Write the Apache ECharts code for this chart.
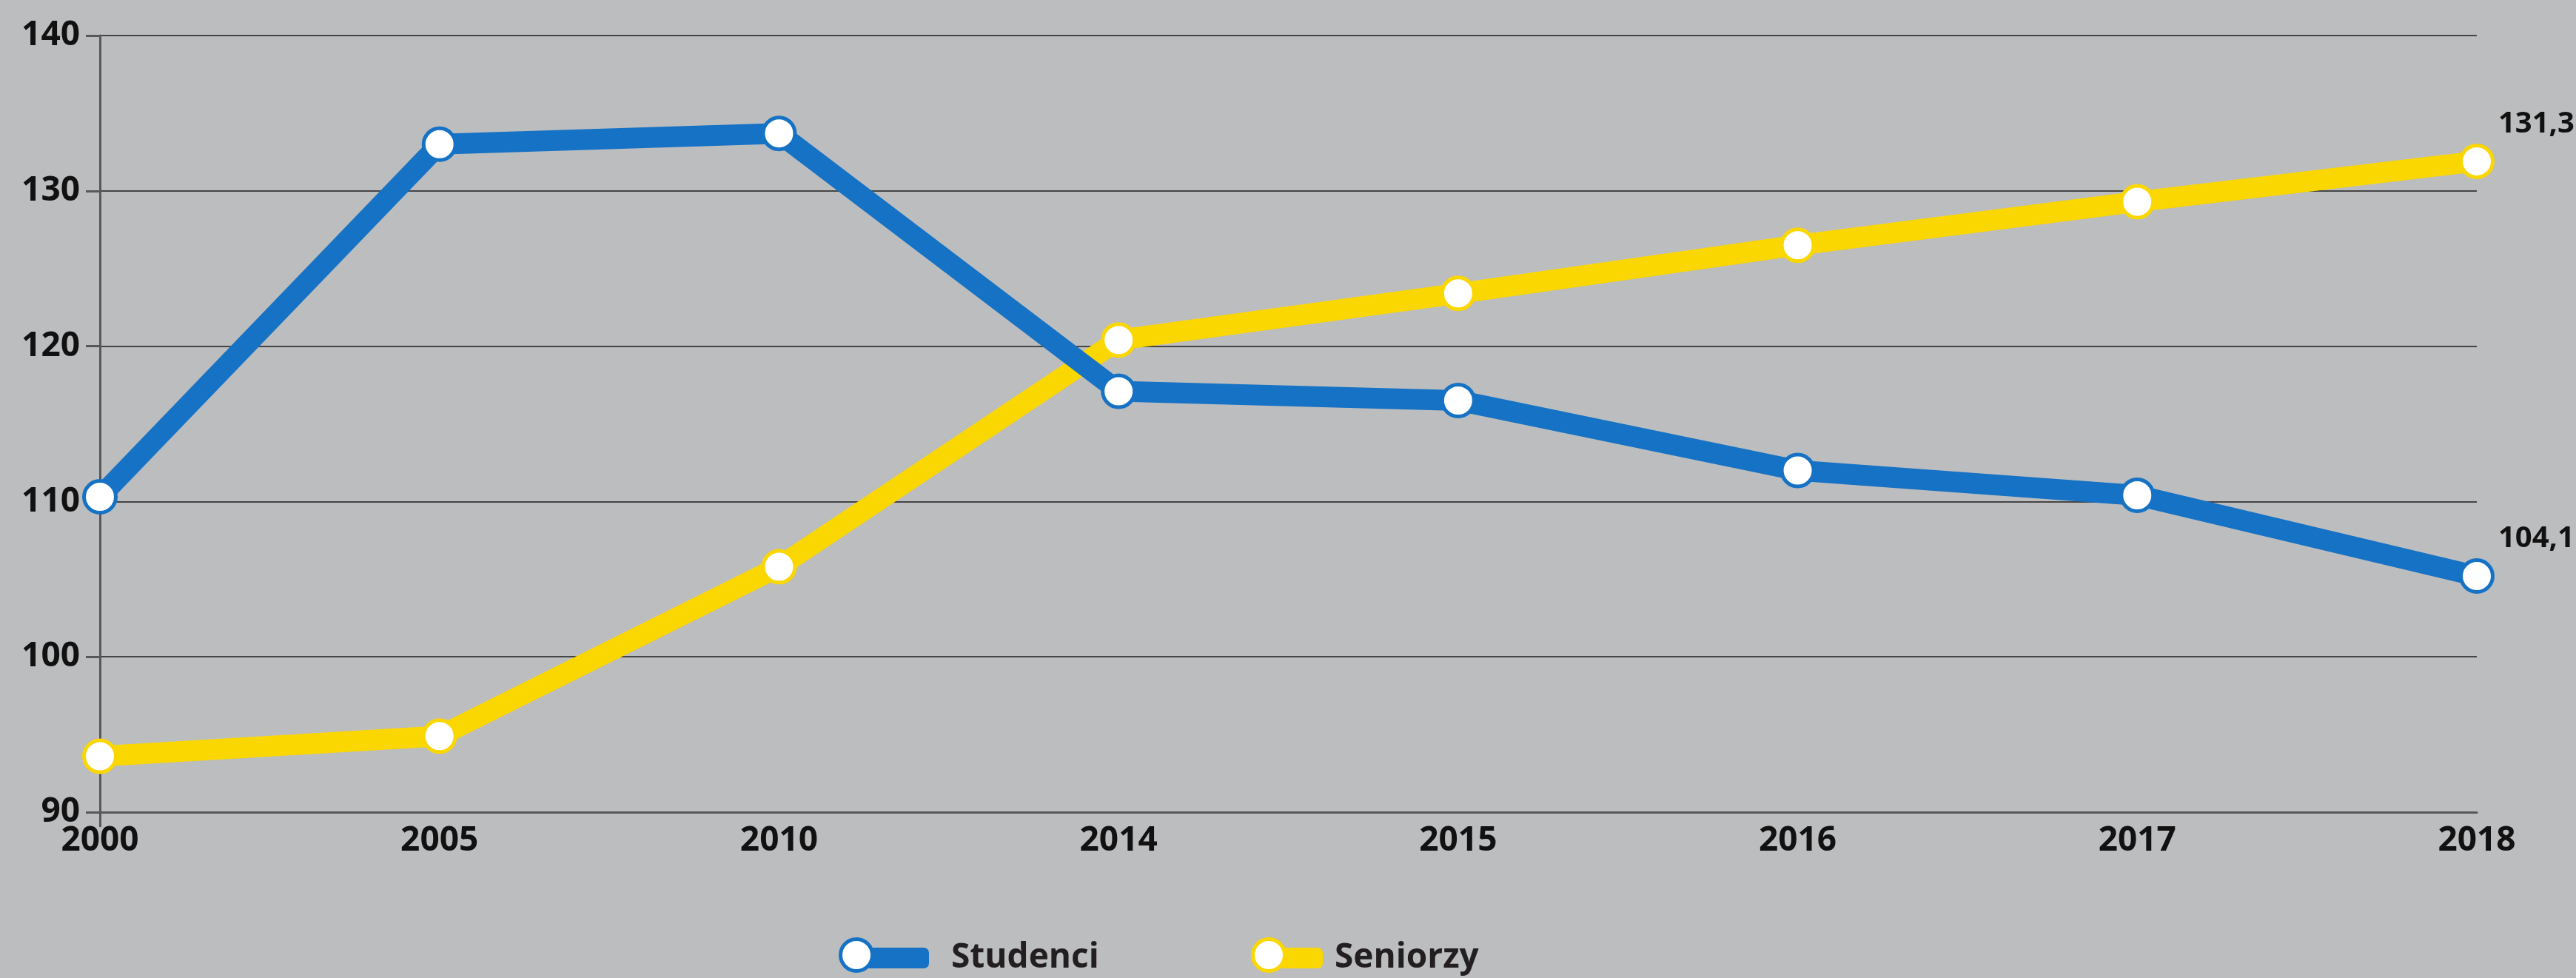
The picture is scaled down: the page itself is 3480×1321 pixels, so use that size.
<!DOCTYPE html>
<html>
<head>
<meta charset="utf-8">
<script src="https://cdn.jsdelivr.net/npm/echarts@6/dist/echarts.min.js"></script>
<style>
html,body{margin:0;padding:0;background:#bcbdbf;}
#c{width:3480px;height:1321px;}
</style>
</head>
<body>
<div id="c"></div>
<script>
var categories = ['2000', '2005', '2010', '2014', '2015', '2016', '2017', '2018'];
var studenci = [110.3, 133.0, 133.7, 117.1, 116.5, 112.0, 110.4, 105.2];
var seniorzy = [93.6, 94.9, 105.8, 120.4, 123.4, 126.5, 129.3, 131.9];
var seriesNames = ['Studenci', 'Seniorzy'];
var endLabels = ['104,1', '131,3'];
var yTicks = { min: 90, max: 140, interval: 10 };

var BLUE = '#1572c4';
var YELLOW = '#fad700';
var FONT = 'Open Sans';

function buildData(values, endLabel) {
  return values.map(function (v, i) {
    if (i === values.length - 1) {
      return {
        value: v,
        label: {
          show: true,
          formatter: endLabel,
          position: 'right',
          distance: 5,
          offset: [0, -50],
          color: '#111',
          fontFamily: FONT,
          fontWeight: 'bold',
          fontSize: 40
        }
      };
    }
    return v;
  });
}

function seriesDef(name, values, color, endLabel) {
  return {
    name: name,
    type: 'line',
    data: buildData(values, endLabel),
    symbol: 'circle',
    symbolSize: 43,
    showSymbol: true,
    lineStyle: { color: color, width: 28, cap: 'round', join: 'round' },
    itemStyle: { color: '#ffffff', borderColor: color, borderWidth: 5 },
    emphasis: { disabled: true },
    animation: false
  };
}

function barLegend(name, color, left, width, gap) {
  return {
    data: [name],
    left: left,
    top: 1263,
    padding: 0,
    orient: 'horizontal',
    icon: 'roundRect',
    itemWidth: width,
    itemHeight: 28,
    itemStyle: { color: color, borderWidth: 0 },
    textStyle: {
      color: '#231f20',
      fontFamily: FONT,
      fontWeight: 'bold',
      fontSize: 46,
      lineHeight: 48,
      padding: [14, 0, 0, gap]
    },
    selectedMode: false,
    z: 3
  };
}
function dotLegend(name, color, left) {
  return {
    data: [name],
    left: left,
    top: 1266,
    padding: 0,
    icon: 'circle',
    itemWidth: 43,
    itemHeight: 43,
    itemStyle: { color: '#ffffff', borderColor: color, borderWidth: 5 },
    formatter: function () { return ''; },
    textStyle: { fontSize: 1 },
    selectedMode: false,
    z: 5
  };
}

var chart = echarts.init(document.getElementById('c'), null, { renderer: 'canvas' });
chart.setOption({
  backgroundColor: '#bcbdbf',
  animation: false,
  grid: { left: 135, right: 134, top: 48, bottom: 224, containLabel: false },
  legend: [
    barLegend(seriesNames[0], BLUE, 1155, 100, 25),
    dotLegend(seriesNames[0], BLUE, 1133),
    barLegend(seriesNames[1], YELLOW, 1712, 75, 11),
    dotLegend(seriesNames[1], YELLOW, 1690)
  ],
  xAxis: {
    type: 'category',
    data: categories,
    boundaryGap: false,
    axisLine: { show: true, lineStyle: { color: '#58585a', width: 3 } },
    axisTick: {
      show: true,
      length: 20,
      interval: function (i) { return i === 0; },
      lineStyle: { color: '#58585a', width: 3 }
    },
    axisLabel: {
      color: '#111',
      fontFamily: FONT,
      fontWeight: 'bold',
      fontSize: 46,
      margin: 16,
      interval: 0
    },
    splitLine: { show: false }
  },
  yAxis: {
    type: 'value',
    min: yTicks.min,
    max: yTicks.max,
    interval: yTicks.interval,
    axisLine: { show: true, lineStyle: { color: '#58585a', width: 3 } },
    axisTick: { show: true, length: 19, lineStyle: { color: '#58585a', width: 3 } },
    axisLabel: {
      color: '#111',
      fontFamily: FONT,
      fontWeight: 'bold',
      fontSize: 46,
      margin: 27,
      padding: [0, 0, 14, 0]
    },
    splitLine: { show: true, lineStyle: { color: '#1e1e1e', width: 1.5 } }
  },
  series: [
    seriesDef(seriesNames[1], seniorzy, YELLOW, endLabels[1]),
    seriesDef(seriesNames[0], studenci, BLUE, endLabels[0])
  ]
});
</script>
</body>
</html>
